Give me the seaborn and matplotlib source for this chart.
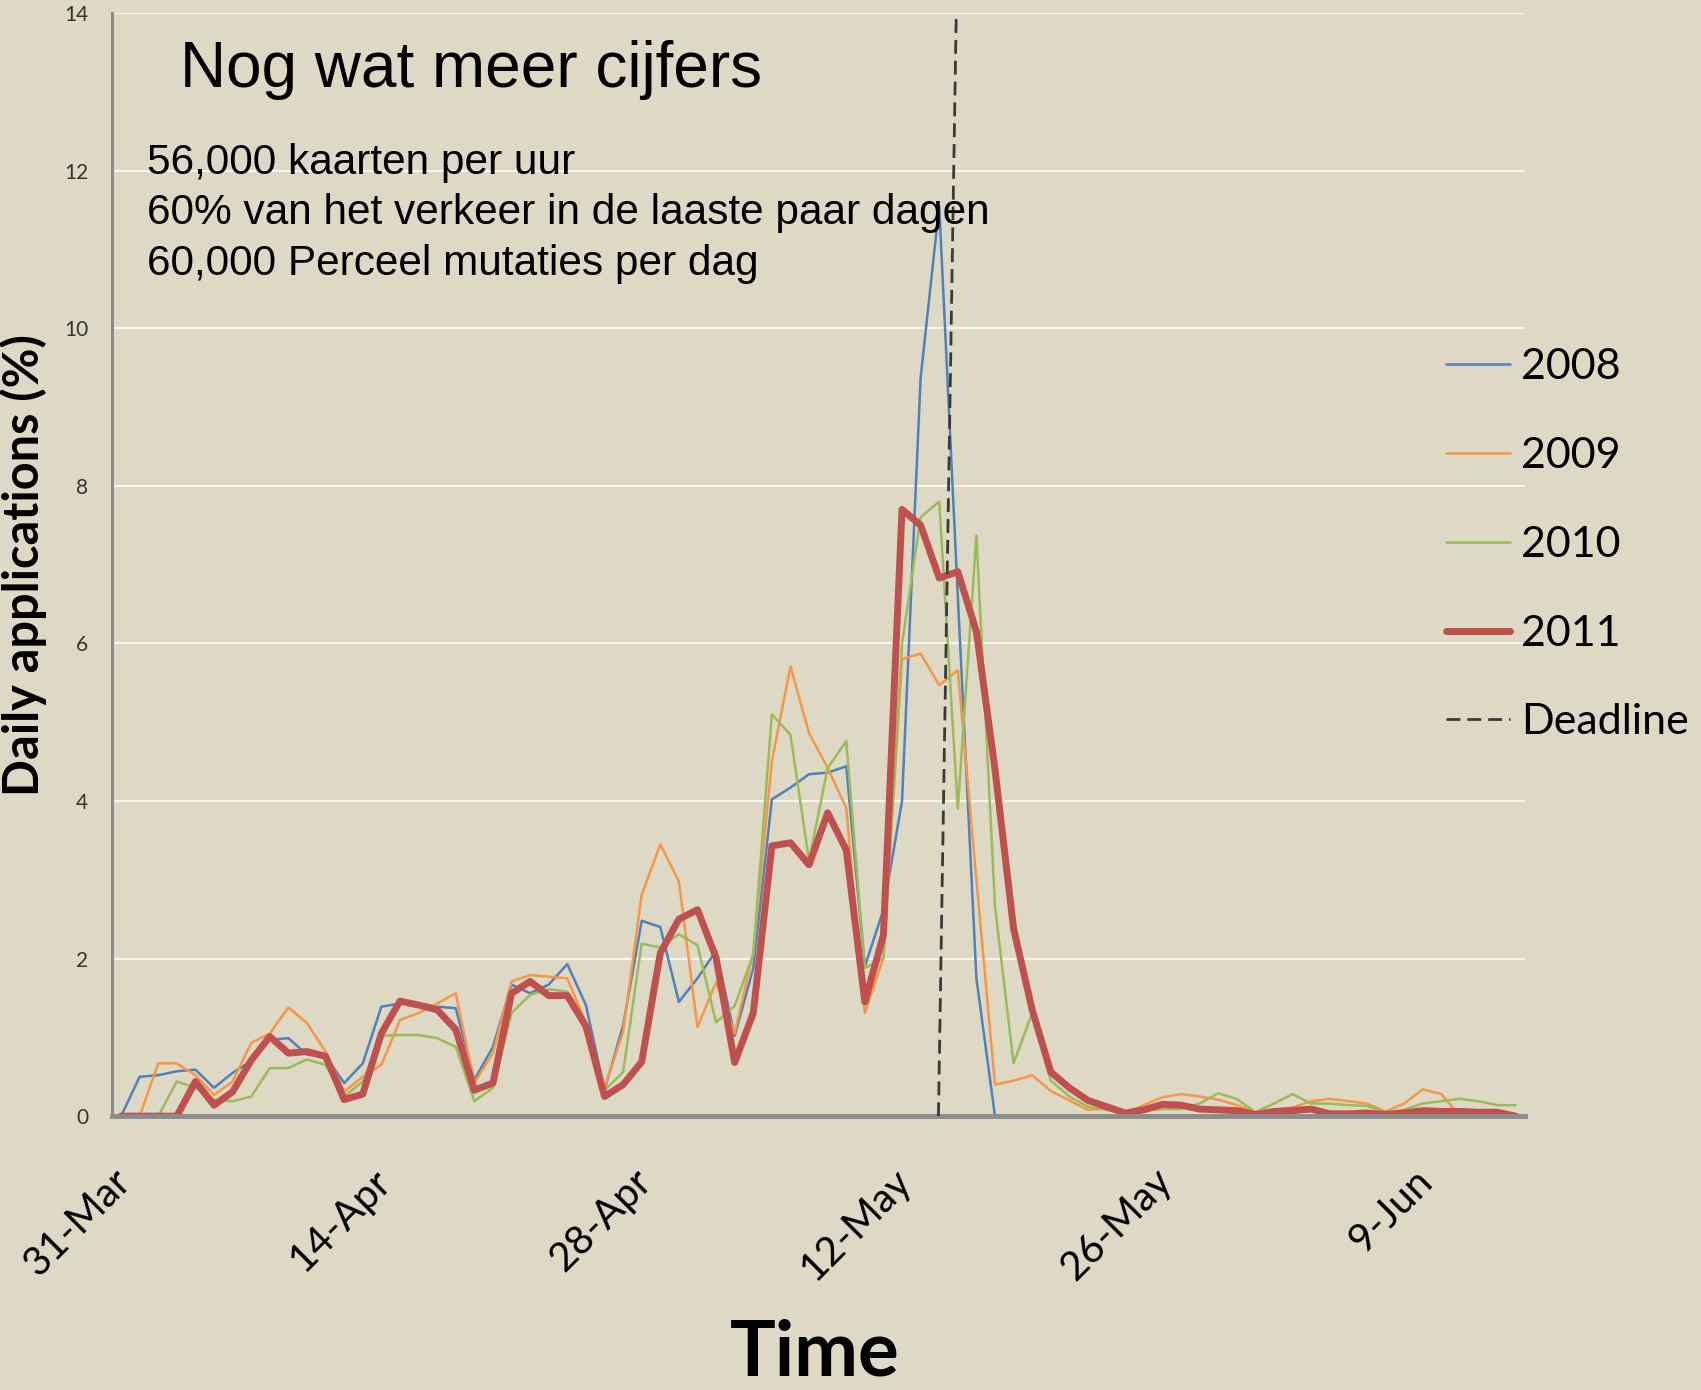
import numpy as np
import pandas as pd
import matplotlib
matplotlib.use("Agg")
import matplotlib.pyplot as plt
import seaborn as sns

nan = np.nan

# daily share of applications (%), one value per day starting 31-Mar
y2008 = [0, 0.50, 0.52, 0.57, 0.59, 0.36, 0.55, 0.70, 0.97, 0.99, 0.78, 0.76, 0.42, 0.67,
         1.39, 1.43, 1.43, 1.39, 1.37, 0.46, 0.88, 1.67, 1.56, 1.67, 1.93, 1.41, 0.33, 1.15,
         2.48, 2.40, 1.45, 1.75, 2.10, 1.02, 1.88, 4.02, 4.17, 4.34, 4.36, 4.44, 1.90, 2.62,
         4.00, 9.37, 11.55, 6.60, 1.75, 0, 0, 0, 0, 0, 0, 0, 0, 0,
         0, 0, 0, 0, 0, 0, 0, 0, 0, 0, 0, 0, 0, 0,
         0, 0, 0, nan, nan, nan]
y2009 = [nan, 0, 0.67, 0.67, 0.52, 0.27, 0.44, 0.93, 1.05, 1.38, 1.18, 0.82, 0.31, 0.50,
         0.65, 1.22, 1.31, 1.43, 1.56, 0.42, 0.80, 1.71, 1.79, 1.77, 1.75, 1.18, 0.36, 1.07,
         2.81, 3.45, 2.98, 1.13, 1.70, 1.05, 2.09, 4.50, 5.71, 4.86, 4.42, 3.91, 1.31, 2.01,
         5.80, 5.87, 5.47, 5.66, 3.00, 0.40, 0.45, 0.52, 0.32, 0.20, 0.08, 0.10, 0.04, 0.14,
         0.24, 0.28, 0.25, 0.21, 0.14, 0.05, 0.08, 0.11, 0.19, 0.22, 0.19, 0.16, 0.06, 0.16,
         0.34, 0.28, 0, 0, 0, 0]
y2010 = [nan, nan, 0, 0.44, 0.36, 0.21, 0.19, 0.25, 0.61, 0.61, 0.72, 0.65, 0.25, 0.44,
         1.02, 1.03, 1.03, 0.99, 0.88, 0.19, 0.36, 1.31, 1.54, 1.61, 1.58, 1.18, 0.33, 0.56,
         2.19, 2.14, 2.31, 2.17, 1.19, 1.40, 2.05, 5.10, 4.84, 3.24, 4.42, 4.76, 1.88, 2.00,
         6.00, 7.60, 7.80, 3.90, 7.37, 2.66, 0.67, 1.31, 0.45, 0.25, 0.12, 0.08, 0.03, 0.07,
         0.09, 0.09, 0.16, 0.29, 0.22, 0.05, 0.16, 0.28, 0.16, 0.16, 0.14, 0.13, 0.05, 0.08,
         0.16, 0.19, 0.22, 0.19, 0.14, 0.14]
y2011 = [0, 0, 0, 0, 0.44, 0.14, 0.31, 0.71, 1.01, 0.80, 0.82, 0.76, 0.21, 0.28,
         1.05, 1.46, 1.41, 1.35, 1.10, 0.33, 0.42, 1.56, 1.71, 1.53, 1.53, 1.14, 0.25, 0.40,
         0.69, 2.07, 2.50, 2.62, 2.01, 0.68, 1.31, 3.43, 3.47, 3.19, 3.85, 3.38, 1.45, 2.30,
         7.70, 7.50, 6.83, 6.91, 6.15, 4.40, 2.38, 1.35, 0.56, 0.36, 0.20, 0.12, 0.04, 0.08,
         0.15, 0.14, 0.09, 0.08, 0.07, 0.02, 0.06, 0.07, 0.09, 0.03, 0.03, 0.04, 0.02, 0.04,
         0.07, 0.06, 0.06, 0.05, 0.05, 0]

series_names = ["2008", "2009", "2010", "2011"]
series_colors = ["#4F81BD", "#F79646", "#9BBB59", "#C0504D"]
series_widths = [1.8, 1.8, 1.8, 5.0]

dates = pd.date_range("2011-03-31 12:00", periods=len(y2011), freq="D")
deadline_x = pd.to_datetime(["2011-05-14 11:00", "2011-05-15 10:00"])
deadline_y = [0, 14]

tick_dates = pd.to_datetime(["2011-03-31", "2011-04-14", "2011-04-28",
                             "2011-05-12", "2011-05-26", "2011-06-09"])
tick_labels = ["31-Mar", "14-Apr", "28-Apr", "12-May", "26-May", "9-Jun"]

bg = "#DDD9C4"
sns.set_theme(style="white")
plt.rcParams["font.family"] = ["Lato", "DejaVu Sans"]
plt.rcParams["text.color"] = "black"
plt.rcParams["axes.labelcolor"] = "black"

fig = plt.figure(figsize=(17.01, 13.90), dpi=100, facecolor=bg)
ax = fig.add_axes([0.0657, 0.197, 0.8308, 0.7936], facecolor=bg)

for name, vals, col, lw in zip(series_names, [y2008, y2009, y2010, y2011],
                               series_colors, series_widths):
    sns.lineplot(x=dates, y=vals, ax=ax, color=col, linewidth=lw, label=name)

ax.plot(deadline_x, deadline_y, color="#3A3A3A", linewidth=2.0,
        dashes=(5, 2.5), label="Deadline", zorder=5)

ax.set_xlim(pd.Timestamp("2011-03-31"), pd.Timestamp("2011-06-15"))
ax.set_ylim(0, 14)
ax.set_yticks(range(0, 15, 2))
ax.yaxis.grid(True, color="white", linewidth=1.1)
ax.set_axisbelow(True)

ax.set_xticks(tick_dates)
ax.set_xticklabels(tick_labels, rotation=45, ha="right", va="top",
                   rotation_mode="anchor", fontsize=29, color="black")
ax.tick_params(axis="x", direction="out", length=12, width=2.2, color="#8C8C8C", pad=21)
ax.tick_params(axis="y", direction="out", length=4, width=2.5, color="#8C8C8C",
               labelsize=15, labelcolor="#333333", pad=13)

for s in ["top", "right"]:
    ax.spines[s].set_visible(False)
ax.spines["left"].set_color("#8C8C8C")
ax.spines["left"].set_linewidth(2.2)
ax.spines["bottom"].set_color("#8C8C8C")
ax.spines["bottom"].set_linewidth(3.5)

ax.set_ylabel("Daily applications (%)", fontsize=35, fontweight="bold")
ax.yaxis.set_label_coords(-0.046, 0.5)
ax.set_xlabel("")
fig.text(0.479, 0.0105, "Time", fontsize=55, fontweight="bold",
         ha="center", va="baseline")

handles, labels = ax.get_legend_handles_labels()
ax.legend(handles, labels, loc="upper left", bbox_to_anchor=(0.850, 0.7495),
          bbox_transform=fig.transFigure, frameon=False, fontsize=31,
          handlelength=1.5, handletextpad=0.25, labelspacing=1.18,
          borderpad=0, borderaxespad=0)

fig.text(0.1058, 0.9374, "Nog wat meer cijfers", fontsize=46,
         family="Liberation Sans", va="baseline")
notes = ["56,000 kaarten per uur",
         "60% van het verkeer in de laaste paar dagen",
         "60,000 Perceel mutaties per dag"]
for k, line in enumerate(notes):
    fig.text(0.0867, 0.875 - k * 0.0363, line, fontsize=30.5,
             family="Liberation Sans", va="baseline")

fig.savefig("out.png", dpi=100, facecolor=bg)
